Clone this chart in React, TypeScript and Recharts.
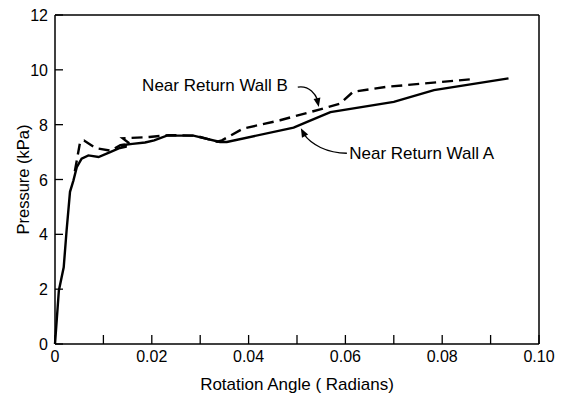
import { Label, Line, LineChart, ReferenceDot, ReferenceLine, XAxis, YAxis } from 'recharts'

const FONT = '"Liberation Sans", Arial, Helvetica, sans-serif'

// Near Return Wall A (solid)
const wallAAngle = [
  0, 0.0008, 0.0018, 0.0024, 0.0031, 0.0038, 0.0045, 0.0055, 0.0069, 0.009, 0.0114, 0.0134,
  0.0148, 0.0136, 0.016, 0.0186, 0.0205, 0.0231, 0.0286, 0.0341, 0.0355, 0.0493, 0.0521,
  0.0569, 0.07, 0.0783, 0.0937,
]
const wallAPressure = [
  0, 1.95, 2.8, 4.15, 5.55, 5.96, 6.45, 6.76, 6.88, 6.82, 7.0, 7.15, 7.2, 7.25, 7.3, 7.35,
  7.43, 7.6, 7.6, 7.37, 7.37, 7.89, 8.1, 8.46, 8.83, 9.26, 9.69,
]

// Near Return Wall B (dashed)
const wallBAngle = [
  0.0041, 0.0052, 0.006, 0.0085, 0.0115, 0.0135, 0.0155, 0.014, 0.0195, 0.0235, 0.029, 0.0335,
  0.0345, 0.0389, 0.0465, 0.0548, 0.0589, 0.0616, 0.0685, 0.0857,
]
const wallBPressure = [
  6.3, 7.38, 7.42, 7.14, 7.05, 7.25, 7.3, 7.5, 7.55, 7.62, 7.6, 7.38, 7.43, 7.86, 8.16, 8.56,
  8.77, 9.2, 9.38, 9.65,
]

const xTicks = [0, 0.01, 0.02, 0.03, 0.04, 0.05, 0.06, 0.07, 0.08, 0.09, 0.1]
const yTicks = [0, 2, 4, 6, 8, 10, 12]

const wallA = wallAAngle.map((a, i) => ({ angle: a, pressure: wallAPressure[i] }))
const wallB = wallBAngle.map((a, i) => ({ angle: a, pressure: wallBPressure[i] }))

function XTick({ x, y, payload }: any) {
  const v = payload.value as number
  const labelled = Math.round(v * 100) % 2 === 0
  return (
    <g>
      <line x1={x} y1={y} x2={x} y2={y - 9} stroke="#000" strokeWidth={1.3} />
      {labelled && (
        <text x={x} y={y + 18} textAnchor="middle" fontSize={16} fontFamily={FONT} fill="#000">
          {v === 0 ? '0' : v.toFixed(2)}
        </text>
      )}
    </g>
  )
}

function YTick({ x, y, payload }: any) {
  return (
    <g>
      <line x1={x} y1={y} x2={x + 8} y2={y} stroke="#000" strokeWidth={1.3} />
      <text x={x - 7} y={y + 6} textAnchor="end" fontSize={16} fontFamily={FONT} fill="#000">
        {payload.value}
      </text>
    </g>
  )
}

function Note({ cx, cy, text }: any) {
  return (
    <text x={cx} y={cy} dominantBaseline="central" fontSize={17} fontFamily={FONT} fill="#000">
      {text}
    </text>
  )
}

function ArrowB({ cx, cy }: any) {
  return (
    <g transform={`translate(${cx},${cy})`}>
      <path d="M -21 -20 C -9 -22 -3 -12 -1 -7" fill="none" stroke="#000" strokeWidth={1.3} />
      <polygon points="0,0 1.6,-9.5 -5.2,-8.1" fill="#000" />
    </g>
  )
}

function ArrowA({ cx, cy }: any) {
  return (
    <g transform={`translate(${cx},${cy})`}>
      <path d="M 46 25 C 26 25 10 16 3 6" fill="none" stroke="#000" strokeWidth={1.3} />
      <polygon points="0,0 7.3,6.3 1.1,9.5" fill="#000" />
    </g>
  )
}

export default function App() {
  return (
    <div style={{ position: 'absolute', left: 0, top: 0, background: '#fff' }}>
      <LineChart
        width={571}
        height={401}
        margin={{ top: 15, right: 32, bottom: 0, left: 0 }}
      >
        <XAxis
          dataKey="angle"
          type="number"
          domain={[0, 0.1]}
          ticks={xTicks}
          allowDuplicatedCategory={false}
          axisLine={{ stroke: '#000', strokeWidth: 1.5 }}
          tickLine={false}
          tickSize={0}
          tickMargin={0}
          tick={<XTick />}
          height={57}
          interval={0}
        >
          <Label
            content={({ viewBox }: any) => (
              <text
                x={viewBox.x + viewBox.width / 2}
                y={viewBox.y + 46}
                textAnchor="middle"
                fontSize={17}
                fontFamily={FONT}
                fill="#000"
              >
                Rotation Angle ( Radians)
              </text>
            )}
          />
        </XAxis>
        <YAxis
          dataKey="pressure"
          type="number"
          domain={[0, 12]}
          ticks={yTicks}
          axisLine={{ stroke: '#000', strokeWidth: 1.5 }}
          tickLine={false}
          tickSize={0}
          tickMargin={0}
          tick={<YTick />}
          width={55}
          interval={0}
        >
          <Label
            content={({ viewBox }: any) => {
              const cx = 23
              const cy = viewBox.y + viewBox.height / 2
              return (
                <text
                  x={cx}
                  y={cy}
                  transform={`rotate(-90 ${cx} ${cy})`}
                  textAnchor="middle"
                  dominantBaseline="central"
                  fontSize={16.5}
                  fontFamily={FONT}
                  fill="#000"
                >
                  Pressure (kPa)
                </text>
              )
            }}
          />
        </YAxis>
        <ReferenceLine y={12} stroke="#000" strokeWidth={1.5} />
        <ReferenceLine x={0.1} stroke="#000" strokeWidth={1.5} />
        <Line
          data={wallA}
          dataKey="pressure"
          type="linear"
          stroke="#000"
          strokeWidth={2.4}
          dot={false}
          isAnimationActive={false}
        />
        <Line
          data={wallB}
          dataKey="pressure"
          type="linear"
          stroke="#000"
          strokeWidth={2.4}
          strokeDasharray="11 6"
          dot={false}
          isAnimationActive={false}
        />
        <ReferenceDot x={0.018} y={9.42} r={0} shape={<Note text="Near Return Wall B" />} />
        <ReferenceDot x={0.0608} y={6.96} r={0} shape={<Note text="Near Return Wall A" />} />
        <ReferenceDot x={0.0545} y={8.64} r={0} shape={<ArrowB />} />
        <ReferenceDot x={0.0508} y={7.87} r={0} shape={<ArrowA />} />
      </LineChart>
    </div>
  )
}
